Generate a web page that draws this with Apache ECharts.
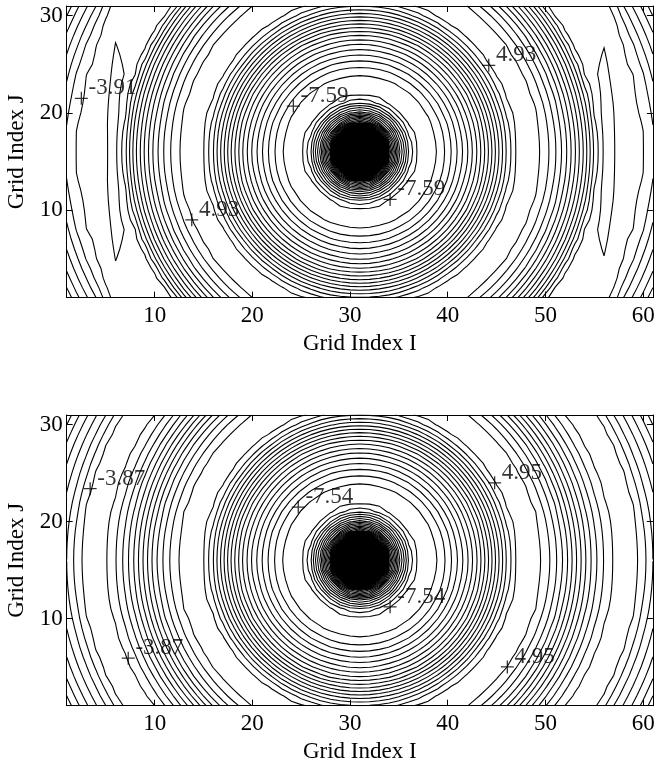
<!DOCTYPE html>
<html><head><meta charset="utf-8">
<script src="https://cdn.jsdelivr.net/npm/echarts@6/dist/echarts.min.js"></script>
<style>html,body{margin:0;padding:0;background:#fff}#c{width:655px;height:766px}</style>
</head><body><div id="c"></div>
<script>
// ---------------- data ----------------
const gridIRange = [1, 61];
const gridJRange = [1, 31];
const xTickValues = [10, 20, 30, 40, 50, 60];
const yTickValues = [10, 20, 30];
const sourceCenter = [31, 16];

// radial profile of the field (distance from centre -> value)
const topRadii    = [0, 1, 2, 2.5, 3, 3.3, 3.6, 4, 4.4, 4.8, 5.2, 5.6, 6, 6.8, 7.6, 8.3, 9.5, 11, 12.5, 14, 15, 15.9, 16.8, 17.5, 18.6, 19.7, 20.8, 21.8, 22.8, 23.8, 24.3, 25.2, 26.5, 28, 29.1, 30, 31, 32.5, 34, 36];
const topValues   = [200, 80, 25, 9, 2.8, 0.5, -1.1, -2.8, -4.3, -5.6, -6.7, -7.5, -7.85, -8.05, -7.8, -7.3, -6.0, -4.0, -1.6, 1.5, 3.5, 4.93, 5.4, 5.4, 4.93, 3.9, 2.6, 1.0, -0.8, -2.8, -3.91, -4.5, -4.35, -4.1, -3.91, -3.3, -2.3, -0.9, 0.8, 2.6];
const bottomRadii  = [0, 1, 2, 2.5, 3, 3.3, 3.6, 4, 4.4, 4.8, 5.2, 5.6, 6, 6.8, 7.6, 8.3, 9.5, 11, 12.5, 14, 15, 15.9, 16.8, 17.6, 18.7, 19.8, 20.9, 21.9, 22.9, 23.9, 24.9, 25.8, 26.6, 27.3, 28, 28.6, 29.3, 30, 31, 32.5, 34, 36];
const bottomValues = [200, 80, 25, 9, 2.8, 0.5, -1.1, -2.8, -4.3, -5.6, -6.7, -7.45, -7.8, -8.0, -7.75, -7.3, -6.0, -4.0, -1.6, 1.5, 3.5, 4.95, 5.4, 5.4, 4.95, 3.9, 2.6, 1.0, -0.6, -2.0, -3.1, -3.87, -4.2, -4.3, -4.2, -3.87, -3.1, -2.4, -1.5, -0.1, 1.5, 3.4];

// top panel only: shallow vertical troughs (the thin closed contours near I = 6 and I = 56)
const topTroughI = [5.9, 56.3];
const topTroughDepth = 0.45;
const topTroughWidth = 0.7;

// contour levels: anchor level and spacing
const topLevelBase = -7.59, topLevelStep = 0.7365;
const bottomLevelBase = -7.54, bottomLevelStep = 0.7345;

// contour labels
const topLabelX = [2.5, 24.2, 44.2, 13.8, 34.1];
const topLabelY = [21.5, 20.7, 24.9, 9.0, 11.1];
const topLabelText = ['-3.91', '-7.59', '4.93', '4.93', '-7.59'];
const bottomLabelX = [3.4, 7.3, 24.7, 34.1, 44.8, 46.1];
const bottomLabelY = [23.4, 5.9, 21.5, 11.2, 24.0, 5.0];
const bottomLabelText = ['-3.87', '-3.87', '-7.54', '-7.54', '4.95', '4.95'];

// ---------------- field + contouring ----------------
function interp(rs, vs, r) {
  if (r <= rs[0]) return vs[0];
  for (let k = 1; k < rs.length; k++) {
    if (r <= rs[k]) { const t = (r - rs[k-1]) / (rs[k] - rs[k-1]); return vs[k-1] + t * (vs[k] - vs[k-1]); }
  }
  return vs[vs.length - 1];
}
function buildField(rs, vs, troughs, depth, width) {
  const F = [];
  for (let j = gridJRange[0]; j <= gridJRange[1]; j++) {
    const row = [];
    for (let i = gridIRange[0]; i <= gridIRange[1]; i++) {
      let v = interp(rs, vs, Math.hypot(i - sourceCenter[0], j - sourceCenter[1]));
      troughs.forEach(xc => { const d = (i - xc) / width; v -= depth * Math.exp(-0.5 * d * d); });
      row.push(v);
    }
    F.push(row);
  }
  return F;
}
function contour(F, level) {
  const ny = F.length, nx = F[0].length, x0 = gridIRange[0], y0 = gridJRange[0];
  const pts = {}, segs = [], adj = {};
  function edge(kind, i, j) {
    const id = kind + i + '_' + j;
    if (!pts[id]) {
      if (kind === 'h') { const a = F[j][i], b = F[j][i+1]; const t = (level - a) / (b - a); pts[id] = [x0 + i + t, y0 + j]; }
      else { const a = F[j][i], b = F[j+1][i]; const t = (level - a) / (b - a); pts[id] = [x0 + i, y0 + j + t]; }
    }
    return id;
  }
  function add(e1, e2) { const s = segs.length; segs.push([e1, e2]); (adj[e1] = adj[e1] || []).push(s); (adj[e2] = adj[e2] || []).push(s); }
  for (let j = 0; j < ny - 1; j++) for (let i = 0; i < nx - 1; i++) {
    const a = F[j][i], b = F[j][i+1], c = F[j+1][i+1], d = F[j+1][i];
    const idx = (a > level ? 1 : 0) | (b > level ? 2 : 0) | (c > level ? 4 : 0) | (d > level ? 8 : 0);
    if (idx === 0 || idx === 15) continue;
    const E0 = () => edge('h', i, j), E2 = () => edge('h', i, j + 1), E3 = () => edge('v', i, j), E1 = () => edge('v', i + 1, j);
    const ctr = (a + b + c + d) / 4;
    switch (idx) {
      case 1: case 14: add(E3(), E0()); break;
      case 2: case 13: add(E0(), E1()); break;
      case 3: case 12: add(E3(), E1()); break;
      case 4: case 11: add(E1(), E2()); break;
      case 6: case 9: add(E0(), E2()); break;
      case 7: case 8: add(E3(), E2()); break;
      case 5: if (ctr > level) { add(E0(), E1()); add(E2(), E3()); } else { add(E3(), E0()); add(E1(), E2()); } break;
      case 10: if (ctr > level) { add(E3(), E0()); add(E1(), E2()); } else { add(E0(), E1()); add(E2(), E3()); } break;
    }
  }
  const used = new Array(segs.length).fill(false), lines = [];
  function walk(start, chain) {
    let cur = start;
    while (true) {
      const next = (adj[cur] || []).find(s => !used[s]);
      if (next === undefined) break;
      used[next] = true;
      cur = segs[next][0] === cur ? segs[next][1] : segs[next][0];
      chain.push(cur);
    }
  }
  for (let s = 0; s < segs.length; s++) {
    if (used[s]) continue;
    used[s] = true;
    const fwd = [segs[s][1]]; walk(segs[s][1], fwd);
    const bwd = [segs[s][0]]; walk(segs[s][0], bwd);
    const chain = bwd.reverse().concat(fwd);
    lines.push(chain.map(id => pts[id]));
  }
  return lines;
}
function allContours(F, base, step) {
  let mn = Infinity, mx = -Infinity;
  F.forEach(r => r.forEach(v => { mn = Math.min(mn, v); mx = Math.max(mx, v); }));
  const out = [];
  for (let k = -40; k < 400; k++) {
    const L = base + k * step;
    if (L <= mn || L >= mx) continue;
    contour(F, L).forEach(p => out.push({ coords: p }));
  }
  return out;
}

const topLines = allContours(buildField(topRadii, topValues, topTroughI, topTroughDepth, topTroughWidth), topLevelBase, topLevelStep);
const bottomLines = allContours(buildField(bottomRadii, bottomValues, [], 0, 1), bottomLevelBase, bottomLevelStep);

// ---------------- chart ----------------
const FONT = 'Liberation Serif';
const FS = 23;
const grids = [
  { left: 66.7, top: 6, width: 586.2, height: 291.6, outerBoundsMode: 'none' },
  { left: 66.7, top: 415, width: 586.2, height: 290.7, outerBoundsMode: 'none' }
];
const axisLineStyle = { show: true, onZero: false, lineStyle: { color: '#000', width: 1 } };
function xAxes(gi) {
  return [
    { type: 'value', gridIndex: gi, position: 'bottom', min: gridIRange[0], max: gridIRange[1],
      axisLine: axisLineStyle, splitLine: { show: false },
      axisTick: { show: true, inside: true, length: 6, customValues: xTickValues, lineStyle: { color: '#000' } },
      axisLabel: { show: true, customValues: xTickValues, color: '#000', fontSize: FS, fontFamily: FONT, margin: 7 },
      name: 'Grid Index I', nameLocation: 'middle', nameGap: 35,
      nameTextStyle: { color: '#000', fontSize: FS, fontFamily: FONT } },
    { type: 'value', gridIndex: gi, position: 'top', min: gridIRange[0], max: gridIRange[1],
      axisLine: axisLineStyle, splitLine: { show: false },
      axisTick: { show: true, inside: true, length: 6, customValues: xTickValues, lineStyle: { color: '#000' } },
      axisLabel: { show: false } }
  ];
}
function yAxes(gi) {
  return [
    { type: 'value', gridIndex: gi, position: 'left', min: gridJRange[0], max: gridJRange[1],
      axisLine: axisLineStyle, splitLine: { show: false },
      axisTick: { show: true, inside: true, length: 6, customValues: yTickValues, lineStyle: { color: '#000' } },
      axisLabel: { show: true, customValues: yTickValues, color: '#000', fontSize: FS, fontFamily: FONT, margin: 4 },
      name: 'Grid Index J', nameLocation: 'middle', nameGap: 37, nameRotate: 90,
      nameTextStyle: { color: '#000', fontSize: FS, fontFamily: FONT } },
    { type: 'value', gridIndex: gi, position: 'right', min: gridJRange[0], max: gridJRange[1],
      axisLine: axisLineStyle, splitLine: { show: false },
      axisTick: { show: true, inside: true, length: 6, customValues: yTickValues, lineStyle: { color: '#000' } },
      axisLabel: { show: false } }
  ];
}
function labelSeries(xs, ys, texts, xi, yi) {
  return {
    type: 'scatter', xAxisIndex: xi, yAxisIndex: yi, silent: true, animation: false, z: 5,
    symbol: 'path://M0,5L10,5M5,0L5,10', symbolSize: 13,
    itemStyle: { color: 'rgba(0,0,0,0)', borderColor: '#000', borderWidth: 1.3 },
    label: { show: true, position: 'right', distance: 5, offset: [-5, -10],
      formatter: p => p.name, color: '#000', fontSize: FS, fontFamily: FONT },
    data: xs.map((x, k) => ({ name: texts[k], value: [x, ys[k]] }))
  };
}
function lineSeries(data, xi, yi) {
  return { type: 'lines', coordinateSystem: 'cartesian2d', xAxisIndex: xi, yAxisIndex: yi,
    polyline: true, large: false, progressive: 0, silent: true, animation: false,
    lineStyle: { color: '#000', width: 1.1, opacity: 1 }, data: data };
}
const chart = echarts.init(document.getElementById('c'), null, { renderer: 'canvas' });
chart.setOption({
  backgroundColor: '#fff',
  animation: false,
  grid: grids,
  xAxis: xAxes(0).concat(xAxes(1)),
  yAxis: yAxes(0).concat(yAxes(1)),
  series: [
    lineSeries(topLines, 0, 0),
    labelSeries(topLabelX, topLabelY, topLabelText, 0, 0),
    lineSeries(bottomLines, 2, 2),
    labelSeries(bottomLabelX, bottomLabelY, bottomLabelText, 2, 2)
  ]
});
</script></body></html>
